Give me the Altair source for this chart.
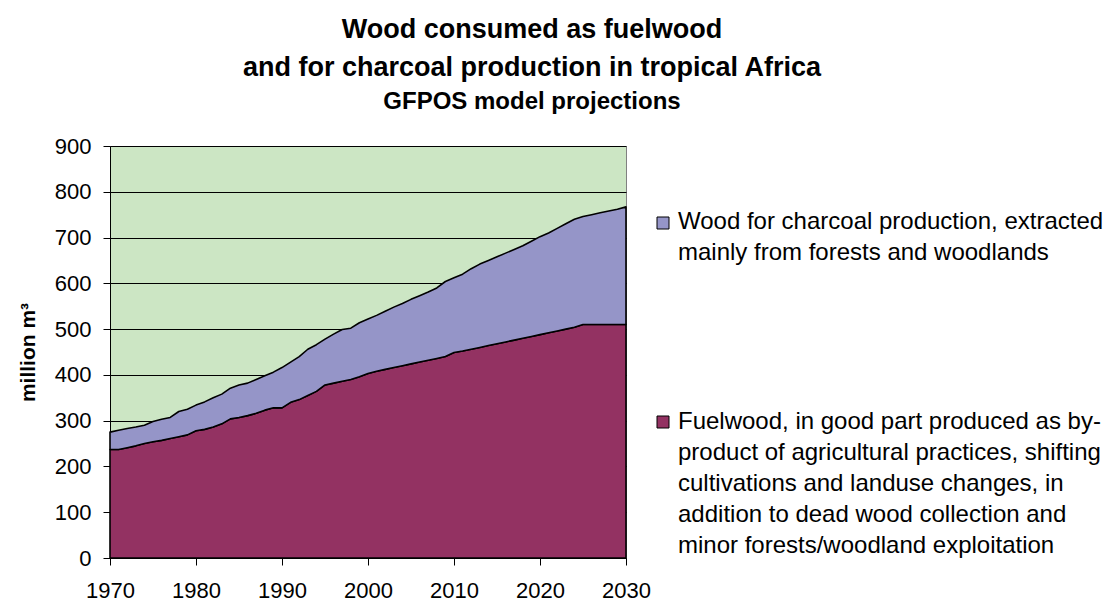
import altair as alt
import pandas as pd

FONT = "Liberation Sans, Arial, Helvetica, sans-serif"

years = list(range(1970, 2031))
fuelwood = [237, 237, 241, 245, 250, 254, 257, 261, 265, 269,
            278, 281, 286, 293, 304, 307, 311, 316, 323, 328,
            328, 340, 346, 355, 364, 378, 382, 386, 390, 396,
            403, 408, 412, 416, 420, 424, 428, 432, 436, 440,
            449, 452, 456, 460, 464, 468, 472, 476, 480, 484,
            488, 492, 496, 500, 504, 510, 510, 510, 510, 510,
            510]
charcoal = [38, 42, 42, 41, 40, 44, 46, 46, 55, 56,
            56, 60, 64, 65, 67, 71, 71, 74, 75, 78,
            88, 88, 94, 101, 102, 100, 107, 113, 112, 118,
            119, 122, 127, 132, 136, 141, 145, 149, 154, 164,
            163, 168, 176, 182, 186, 190, 194, 198, 202, 208,
            214, 218, 224, 230, 236, 236, 240, 244, 248, 252,
            257]

series_names = ["Wood for charcoal production", "Fuelwood"]
series_colors = ["#9595C8", "#933262"]
legend_labels = [
    "Wood for charcoal production, extracted|mainly from forests and woodlands",
    "Fuelwood, in good part produced as by-|product of agricultural practices, shifting|"
    "cultivations and landuse changes, in|addition to dead wood collection and|"
    "minor forests/woodland exploitation",
]
y_ticks = list(range(0, 901, 100))
x_ticks = list(range(1970, 2031, 10))

rows = []
for i, yr in enumerate(years):
    rows.append({"year": yr, "series": series_names[1], "value": fuelwood[i], "ord": 0})
    rows.append({"year": yr, "series": series_names[0], "value": charcoal[i], "ord": 1})
df = pd.DataFrame(rows)

color_scale = alt.Scale(domain=series_names, range=series_colors)

areas = alt.Chart(df).mark_area(
    stroke="black", strokeWidth=1.6, strokeJoin="round", opacity=1
).encode(
    x=alt.X("year:Q",
            scale=alt.Scale(domain=[1970, 2030], nice=False, zero=False),
            axis=alt.Axis(values=x_ticks, format="d", title=None, grid=False,
                          labelFlush=False,
                          labelFontSize=22, labelPadding=15, tickSize=7,
                          tickColor="black", domainColor="black", labelColor="black",
                          labelFont=FONT)),
    y=alt.Y("value:Q", stack="zero",
            scale=alt.Scale(domain=[0, 900], nice=False),
            axis=alt.Axis(values=y_ticks, title="million m³", grid=True,
                          gridColor="black", gridWidth=1, labelFlush=False,
                          labelFontSize=22, labelPadding=12, tickSize=7,
                          tickColor="black", domainColor="black", labelColor="black",
                          labelFont=FONT,
                          titleFont=FONT, titleFontSize=21, titleFontWeight="bold",
                          titleColor="black", titleAngle=270, titleBaseline="alphabetic",
                          titleX=-76, titleY=206)),
    color=alt.Color("series:N", scale=color_scale, legend=None),
    order=alt.Order("ord:Q"),
)

leg_df = pd.DataFrame({"series": series_names, "label": legend_labels})
leg_base = alt.Chart(leg_df).transform_calculate(lines="split(datum.label, '|')")

legend_pos = [(77, 83), (276, 283)]
legend_layers = []
for name, (sq_y, txt_y) in zip(series_names, legend_pos):
    sub = leg_base.transform_filter(alt.datum.series == name)
    legend_layers.append(
        sub.mark_square(size=144, stroke="black", strokeWidth=1, opacity=1, filled=True).encode(
            x=alt.value(553), y=alt.value(sq_y),
            color=alt.Color("series:N", scale=color_scale, legend=None))
    )
    legend_layers.append(
        sub.mark_text(align="left", baseline="alphabetic", fontSize=24, lineHeight=31,
                      font=FONT, color="black").encode(
            x=alt.value(568), y=alt.value(txt_y), text="lines:N")
    )

chart = alt.layer(areas, *legend_layers).properties(
    width=516, height=412,
    background="white",
    title=alt.TitleParams(
        text=["Wood consumed as fuelwood", "and for charcoal production in tropical Africa"],
        subtitle="GFPOS model projections",
        anchor="middle", dx=164, offset=20,
        font=FONT, fontSize=27, fontWeight="bold", color="black", lineHeight=38,
        subtitleFont=FONT, subtitleFontSize=24, subtitleFontWeight="bold",
        subtitleColor="black", subtitlePadding=8,
    ),
    autosize=alt.AutoSizeParams(type="none"),
    padding={"left": 110, "top": 146, "right": 492, "bottom": 43},
).configure_view(
    fill="#CCE6C4", stroke="#808080", strokeWidth=1
)

chart.save("out.html", embed_options={"renderer": "svg", "actions": False})
